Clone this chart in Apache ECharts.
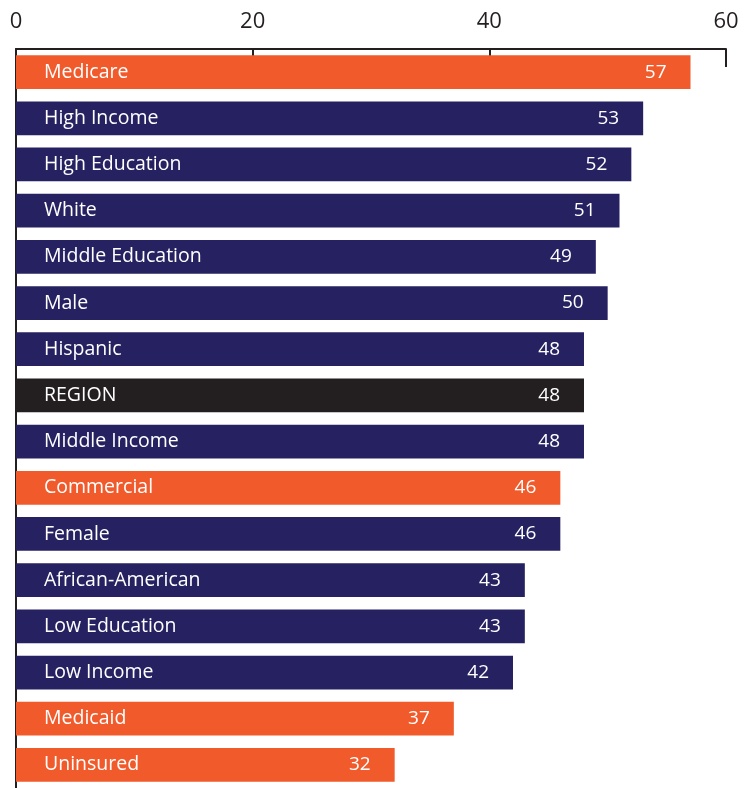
<!DOCTYPE html>
<html>
<head>
<meta charset="utf-8">
<script src="https://cdn.jsdelivr.net/npm/echarts@6/dist/echarts.min.js"></script>
<style>
  html, body { margin: 0; padding: 0; background: #ffffff; }
  #chart { width: 753px; height: 788px; }
</style>
</head>
<body>
<div id="chart"></div>
<script>
// Groups, top to bottom
const categories = [
  'Medicare', 'High Income', 'High Education', 'White', 'Middle Education',
  'Male', 'Hispanic', 'REGION', 'Middle Income', 'Commercial', 'Female',
  'African-American', 'Low Education', 'Low Income', 'Medicaid', 'Uninsured'
];
const values = [57, 53, 52, 51, 49, 50, 48, 48, 48, 46, 46, 43, 43, 42, 37, 32];
// Bar colour kind per group: payer / demographic / region
const kinds = ['payer', 'demo', 'demo', 'demo', 'demo', 'demo', 'demo', 'region',
  'demo', 'payer', 'demo', 'demo', 'demo', 'demo', 'payer', 'payer'];
const axisTicks = [0, 20, 40, 60];

const palette = { payer: '#F15A2B', demo: '#262262', region: '#231F20' };
const FONT = '"Open Sans", "Noto Sans", sans-serif';

const chart = echarts.init(document.getElementById('chart'));
chart.setOption({
  animation: false,
  grid: { left: 16, right: 27, top: 49, height: 743, containLabel: false },
  xAxis: {
    type: 'value',
    position: 'top',
    min: axisTicks[0],
    max: axisTicks[axisTicks.length - 1],
    interval: axisTicks[1] - axisTicks[0],
    axisLine: { show: true, lineStyle: { color: '#231F20', width: 2 } },
    axisTick: { show: true, inside: true, length: 18, lineStyle: { color: '#231F20', width: 2 } },
    axisLabel: { color: '#231F20', fontSize: 22, fontFamily: FONT, margin: 16 },
    splitLine: { show: false }
  },
  yAxis: {
    type: 'category',
    inverse: true,
    data: categories,
    axisLine: { show: true, lineStyle: { color: '#231F20', width: 2 } },
    axisTick: { show: false },
    axisLabel: { show: false }
  },
  series: [
    {
      type: 'bar',
      z: 3,
      barCategoryGap: '27%',
      data: values.map((v, i) => ({ value: v, itemStyle: { color: palette[kinds[i]] } })),
      label: {
        show: true,
        position: 'insideRight',
        distance: 24,
        color: '#ffffff',
        fontSize: 19,
        fontFamily: FONT
      }
    },
    {
      type: 'bar',
      z: 4,
      barGap: '-100%',
      barCategoryGap: '27%',
      data: values,
      itemStyle: { color: 'rgba(0,0,0,0)' },
      silent: true,
      label: {
        show: true,
        position: 'insideLeft',
        distance: 28,
        formatter: '{b}',
        color: '#ffffff',
        fontSize: 19.5,
        fontFamily: FONT
      }
    }
  ]
});
</script>
</body>
</html>
